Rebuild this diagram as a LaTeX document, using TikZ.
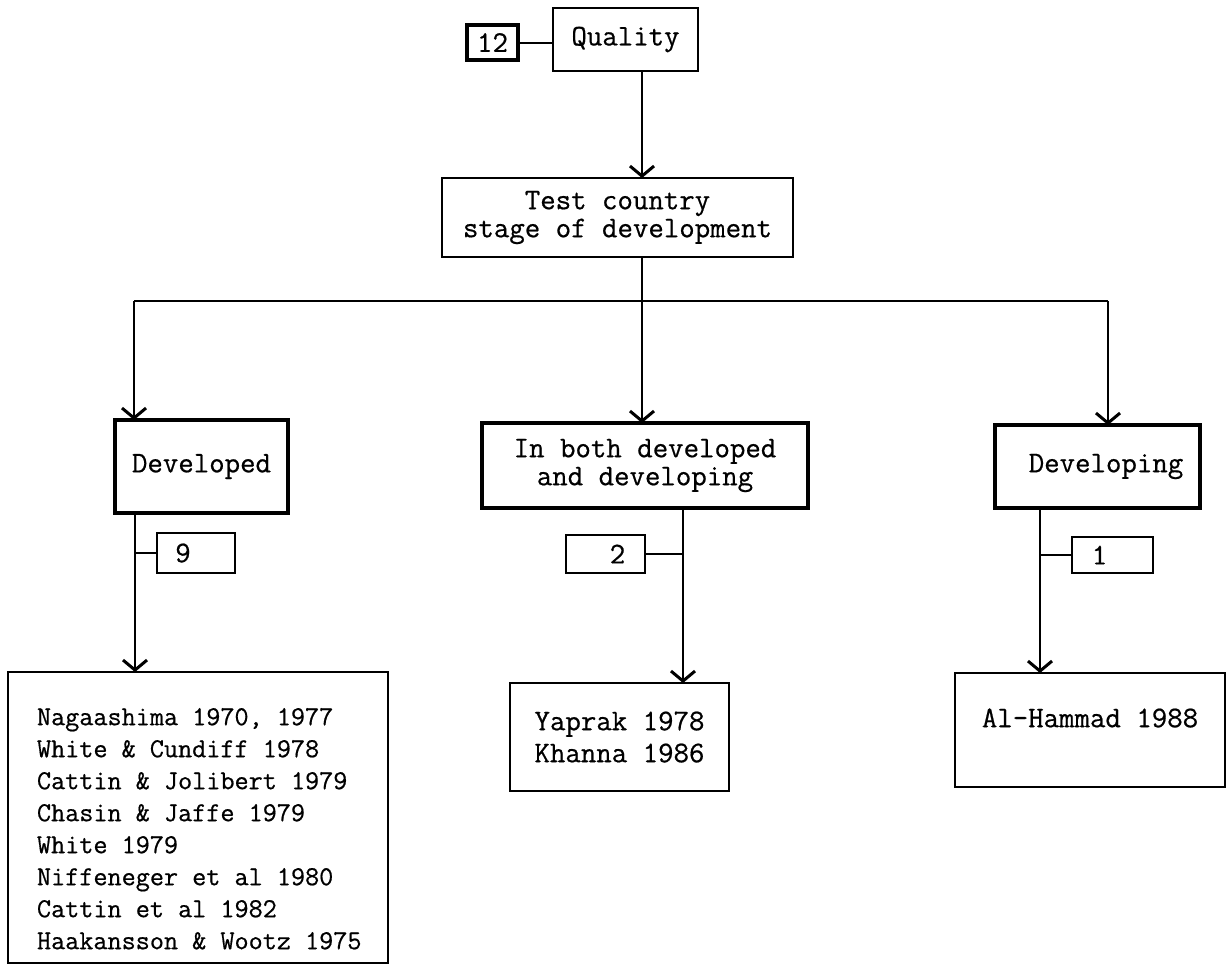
\documentclass[tikz,border=0pt]{standalone}
\usepackage{fontspec}
\setmonofont{Latin Modern Mono}[FakeBold=0.6]
\usetikzlibrary{arrows.meta,calc}
\begin{document}
\begin{tikzpicture}[x=0.5pt,y=-0.5pt,
  every node/.style={inner sep=0pt, outer sep=0pt},
  plain/.style={draw, rectangle, line width=1pt, align=center,
    font=\ttfamily\fontsize{15}{14}\selectfont},
  mid/.style={plain, line width=1.3pt},
  heavy/.style={plain, line width=2pt},
  count/.style={plain, font=\ttfamily\fontsize{15}{15}\selectfont},
  reftext/.style={font=\ttfamily\fontsize{13.7}{16}\selectfont, align=left, anchor=north west},
  arr/.style={line width=1pt, -{Straight Barb[length=5pt,width=12pt,line width=1.5pt]}},
  wire/.style={line width=1pt}]

\useasboundingbox (0,0) rectangle (1226,966);

% top of the tree
\node[mid, minimum width=72.5pt, minimum height=31.5pt] (quality) at (625.5,39.5) {Quality};
\node[count, line width=2pt, minimum width=25.5pt, minimum height=17.5pt] (n12) at (492.5,42.5) {12};
\node[mid, minimum width=175.5pt, minimum height=39.5pt] (test) at (617.5,217.5) {Test country\\stage of development};

% the three branches
\node[heavy, minimum width=86.5pt, minimum height=46.5pt] (developed) at (201.5,466.5) {Developed};
\node[heavy, minimum width=163pt, minimum height=42.5pt] (both) at (645,465.5) {In both developed\\and developing};
\node[heavy, minimum width=102.5pt, minimum height=41.5pt] (developing) at (1097.5,466.5) {\kern8.5pt Developing};

% study counts (digit sits off-centre in each box)
\node[count, minimum width=39pt, minimum height=20pt] (n9) at (196,553) {\kern-13pt 9};
\node[count, minimum width=39.5pt, minimum height=19pt] (n2) at (605.5,554) {\kern12pt 2};
\node[count, minimum width=40.5pt, minimum height=18pt] (n1) at (1112.5,555) {\kern-13pt 1};

% reference lists
\node[plain, minimum width=190pt, minimum height=145.5pt] (refA) at (198,817.5) {};
\node[reftext] (refAtext) at (37,708) {Nagaashima 1970, 1977\\White \& Cundiff 1978\\Cattin \& Jolibert 1979\\Chasin \& Jaffe 1979\\White 1979\\Niffeneger et al 1980\\Cattin et al 1982\\Haakansson \& Wootz 1975};
\node[plain, align=left, font=\ttfamily\fontsize{15}{16}\selectfont, minimum width=109.5pt, minimum height=54pt] (refB) at (619.5,737) {Yaprak 1978\\Khanna 1986};
\node[plain, minimum width=135pt, minimum height=57pt] (refC) at (1090,730) {};
\node[font=\ttfamily\fontsize{15}{15}\selectfont] (refCtext) at (1090,718) {Al-Hammad 1988};

% connector x positions
\coordinate (mx) at (642,0);
\coordinate (lx) at (134,0);
\coordinate (rx) at (1108,0);
\coordinate (busy) at (0,301);
\coordinate (ax) at (135,0);
\coordinate (bx) at (683,0);
\coordinate (cx) at (1040,0);

\draw[wire] (n12.east) -- (n12.east -| quality.west);
\draw[arr] (quality.south -| mx) -- (test.north -| mx);
\draw[arr] (test.south -| mx) -- (both.north -| mx);
\draw[wire] (lx |- busy) -- (rx |- busy);
\draw[arr] (lx |- busy) -- (developed.north -| lx);
\draw[arr] (rx |- busy) -- (developing.north -| rx);

\draw[arr] (developed.south -| ax) -- (refA.north -| ax);
\draw[wire] (n9.west -| ax) -- (n9.west);
\draw[arr] (both.south -| bx) -- (refB.north -| bx);
\draw[wire] (n2.east) -- (n2.east -| bx);
\draw[arr] (developing.south -| cx) -- (refC.north -| cx);
\draw[wire] (n1.west -| cx) -- (n1.west);
\end{tikzpicture}
\end{document}
